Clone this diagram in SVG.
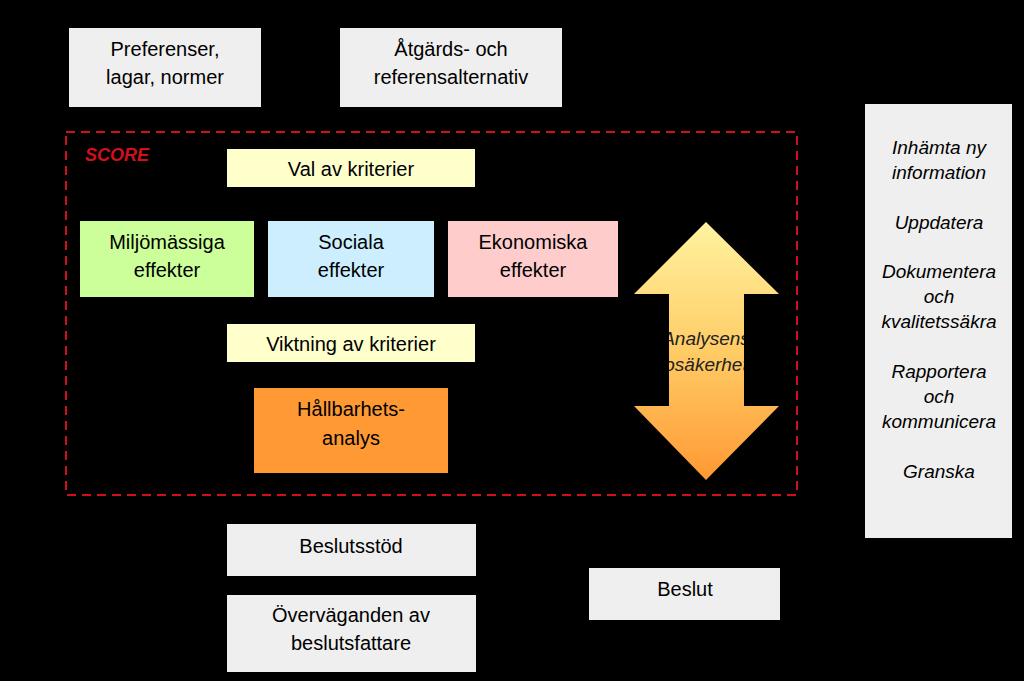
<svg xmlns="http://www.w3.org/2000/svg" width="1024" height="681" viewBox="0 0 1024 681">
<defs>
<linearGradient id="ag" x1="0" y1="0" x2="0" y2="1"><stop offset="0" stop-color="#fff3a0"/><stop offset="0.5" stop-color="#ffcc66"/><stop offset="1" stop-color="#ff9933"/></linearGradient>
</defs>
<style>
text{font-family:"Liberation Sans",Arial,sans-serif;font-size:20px;fill:#000;text-anchor:middle}
.g{fill:#efefef}
.it{font-style:italic;font-size:19px}
</style>
<rect width="1024" height="681" fill="#000"/>
<g id="pref"><rect class="g" x="69" y="28" width="192" height="79"/><text x="165" y="56">Preferenser,</text><text x="165" y="84">lagar, normer</text></g>
<g id="atg"><rect class="g" x="340" y="28" width="222" height="79"/><text x="451" y="56">Åtgärds- och</text><text x="451" y="84">referensalternativ</text></g>
<g id="score"><rect x="66" y="132" width="731" height="363" fill="none" stroke="#d0101a" stroke-width="2" stroke-dasharray="9,6"/><text x="117" y="161" style="fill:#d0101a;font-weight:bold;font-style:italic;font-size:18px">SCORE</text></g>
<g id="val"><rect x="227" y="149" width="248" height="38" fill="#ffffcc"/><text x="351" y="176">Val av kriterier</text></g>
<g id="milj"><rect x="80" y="221" width="174" height="76" fill="#ccff99"/><text x="167" y="249">Miljömässiga</text><text x="167" y="277">effekter</text></g>
<g id="soc"><rect x="268" y="221" width="166" height="76" fill="#cceeff"/><text x="351" y="249">Sociala</text><text x="351" y="277">effekter</text></g>
<g id="eko"><rect x="448" y="221" width="170" height="76" fill="#ffcccc"/><text x="533" y="249">Ekonomiska</text><text x="533" y="277">effekter</text></g>
<g id="vikt"><rect x="227" y="324" width="248" height="38" fill="#ffffcc"/><text x="351" y="351">Viktning av kriterier</text></g>
<g id="hall"><rect x="254" y="388" width="194" height="85" fill="#ff9933"/><text x="351" y="416">Hållbarhets-</text><text x="351" y="445">analys</text></g>
<g id="osak"><polygon points="706,222 779,294 744,294 744,406 779,406 706,480 634,406 669,406 669,294 634,294" fill="url(#ag)"/>
<text x="706" y="345" class="it" style="fill:#222">Analysens</text><text x="706" y="371" class="it" style="fill:#222">osäkerhet</text>
<rect x="620" y="295" width="49" height="110" fill="#000"/><rect x="744" y="295" width="40" height="110" fill="#000"/></g>
<g id="side"><rect class="g" x="865" y="104" width="147" height="434"/>
<text x="939" y="154" class="it">Inhämta ny</text><text x="939" y="179" class="it">information</text>
<text x="939" y="229" class="it">Uppdatera</text>
<text x="939" y="278" class="it">Dokumentera</text><text x="939" y="303" class="it">och</text><text x="939" y="328" class="it">kvalitetssäkra</text>
<text x="939" y="378" class="it">Rapportera</text><text x="939" y="403" class="it">och</text><text x="939" y="428" class="it">kommunicera</text>
<text x="939" y="478" class="it">Granska</text></g>
<g id="stod"><rect class="g" x="227" y="524" width="249" height="52"/><text x="351" y="553">Beslutsstöd</text></g>
<g id="overv"><rect class="g" x="227" y="595" width="249" height="77"/><text x="351" y="622">Överväganden av</text><text x="351" y="650">beslutsfattare</text></g>
<g id="beslut"><rect class="g" x="589" y="568" width="191" height="52"/><text x="685" y="596">Beslut</text></g>
<g id="connectors"/>
</svg>
